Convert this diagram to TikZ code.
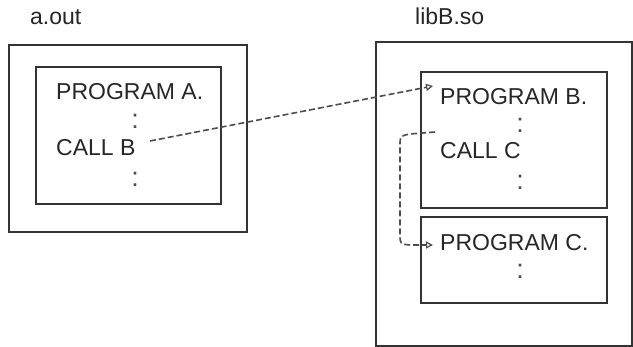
\documentclass[tikz,border=0pt]{standalone}
\usepackage{fontspec}
\setmainfont{Liberation Sans}
\usetikzlibrary{arrows.meta}
\begin{document}
\begin{tikzpicture}[x=1pt,y=-1pt,
  box/.style={draw=black!80,line width=1.3pt},
  lbl/.style={anchor=base west,inner sep=0pt,text=black!85,font=\fontsize{23}{27}\selectfont},
  vdots/.style={anchor=base,inner sep=0pt,text=black!70,font=\fontsize{27}{30}\selectfont},
  link/.style={draw=black!70,line width=1.6pt,dash pattern=on 6pt off 3pt,
    -{Triangle[open,length=7pt,width=7pt,line width=1.2pt]}}]
\useasboundingbox (0,0) rectangle (633,347);
\fill[white] (0,0) rectangle (633,347);
% a.out
\node[lbl] (aout) at (30,25) {a.out};
\draw[box] (9,45) rectangle (247,232);
\draw[box] (36,67) rectangle (221,204);
\node[lbl] (pa) at (56,100) {PROGRAM A.};
\node[vdots] (da1) at (135,128.5) {:};
\node[lbl] (cb) at (56,156) {CALL B};
\node[vdots] (da2) at (135,186.5) {:};
% libB.so
\node[lbl] (libb) at (415,25) {libB.so};
\draw[box] (376,42) rectangle (632,346);
\draw[box] (421,72) rectangle (607,208);
\draw[box] (421,217) rectangle (607,303);
\node[lbl] (pb) at (440,105) {PROGRAM B.};
\node[vdots] (db1) at (520,132.5) {:};
\node[lbl] (cc) at (440,159) {CALL C};
\node[vdots] (db2) at (520,189.5) {:};
\node[lbl] (pc) at (440,251) {PROGRAM C.};
\node[vdots] (dc1) at (520,278.5) {:};
% connectors
\coordinate (s1) at (150,141);
\coordinate (e1) at (433,86);
\draw[link] (s1) -- (e1);
\coordinate (s2) at (435,132);
\coordinate (e2) at (433,245);
\draw[link] (s2) -- (410,134) .. controls (400,136) .. (400,146) -- (400,234) .. controls (400,244) .. (410,245) -- (e2);
\end{tikzpicture}
\end{document}
